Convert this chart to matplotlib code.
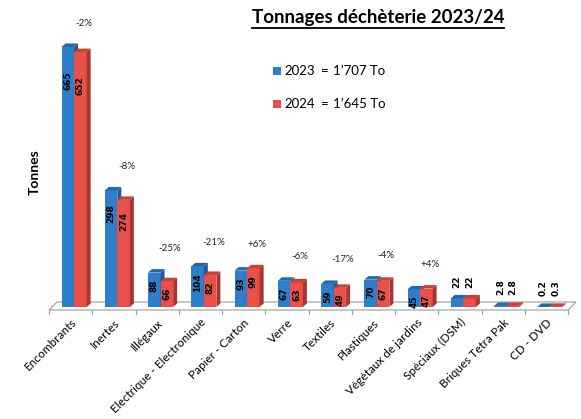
import matplotlib
matplotlib.use("Agg")
import matplotlib.pyplot as plt
from matplotlib.patches import Polygon, Rectangle
from matplotlib.lines import Line2D

plt.rcParams['font.family'] = ['Lato', 'DejaVu Sans']

# --- data -------------------------------------------------------------
categories = ["Encombrants", "Inertes", "Illégaux", "Electrique - Electronique",
              "Papier - Carton", "Verre", "Textiles", "Plastiques",
              "Végétaux de jardins", "Spéciaux (DSM)", "Briques Tetra Pak", "CD - DVD"]
tonnes_2023 = [665, 298, 88, 104, 93, 67, 59, 70, 45, 22, 2.8, 0.2]
tonnes_2024 = [652, 274, 66, 82, 99, 63, 49, 67, 47, 22, 2.8, 0.3]
value_text_2023 = ["665", "298", "88", "104", "93", "67", "59", "70", "45", "22", "2.8", "0.2"]
value_text_2024 = ["652", "274", "66", "82", "99", "63", "49", "67", "47", "22", "2.8", "0.3"]
change_labels = ["-2%", "-8%", "-25%", "-21%", "+6%", "-6%", "-17%", "-4%", "+4%", "", "", ""]
series_names = ["2023", "2024"]
series_totals = ["1\u2019707 To", "1\u2019645 To"]

# --- layout -----------------------------------------------------------
W, H = 581, 419
fig = plt.figure(figsize=(W / 100, H / 100), dpi=100)
ax_left, ax_right = 49, 568
ax_bottom_px, ax_top_px = 307, 33.3
ymax = 700
ax = fig.add_axes([ax_left / W, (H - ax_bottom_px) / H,
                   (ax_right - ax_left) / W, (ax_bottom_px - ax_top_px) / H])
ax.set_xlim(0, len(categories))
ax.set_ylim(0, ymax)
for s in ax.spines.values():
    s.set_visible(False)
ax.set_yticks([])

px_x = len(categories) / (ax_right - ax_left)      # data units per pixel (x)
px_y = ymax / (ax_bottom_px - ax_top_px)            # data units per pixel (y)

# floor of the 3-D plot
fy_front, fy_back = -3 * px_y, 5 * px_y
fdx = 8 * px_x
n = len(categories)
floor = Polygon([(0, fy_front), (n, fy_front), (n + fdx, fy_back), (fdx, fy_back)],
                closed=True, facecolor="white", edgecolor="#a6a6a6", lw=0.9,
                clip_on=False, zorder=1)
ax.add_patch(floor)
for k in range(n + 1):
    ax.add_line(Line2D([k, k], [fy_front, fy_front - 3.5 * px_y], color="#a6a6a6",
                       lw=0.9, clip_on=False, zorder=1))

# bars drawn with a small depth to give the 3-D look
bw = 0.29
ddx, ddy = 4 * px_x, 3.5 * px_y
styles = [
    dict(front="#2e7fcb", side="#1d5a96", top="#2567aa"),
    dict(front="#e8504a", side="#a83530", top="#c9403a"),
]
offsets = [0.29, 0.58]
for series, st, off in zip([tonnes_2023, tonnes_2024], styles, offsets):
    xs = [i + off for i in range(n)]
    ax.bar(xs, series, width=bw, align="edge", color=st["front"], lw=0,
           zorder=3, clip_on=False)
    for x0, v in zip(xs, series):
        x1 = x0 + bw
        ax.add_patch(Polygon([(x1, 0), (x1 + ddx, ddy), (x1 + ddx, v + ddy), (x1, v)],
                             closed=True, facecolor=st["side"], lw=0, zorder=3,
                             clip_on=False))
        ax.add_patch(Polygon([(x0, v), (x1, v), (x1 + ddx, v + ddy), (x0 + ddx, v + ddy)],
                             closed=True, facecolor=st["top"], lw=0, zorder=3,
                             clip_on=False))

# value labels
val_font = dict(family=["DejaVu Sans"], fontsize=6.5, fontweight="bold")
for series, texts, off in zip([tonnes_2023, tonnes_2024],
                              [value_text_2023, value_text_2024], offsets):
    for i, (v, t) in enumerate(zip(series, texts)):
        xc = i + off + bw / 2
        if v >= 30:
            ax.annotate(t, (xc, v), xytext=(0, -(3 + 0.022 * v)), textcoords="offset points",
                        rotation=90, ha="center", va="top", color="black", zorder=5,
                        **val_font)
        else:
            ax.annotate(t, (xc, v + ddy), xytext=(0, 5), textcoords="offset points",
                        rotation=90, ha="center", va="bottom", color="black", zorder=5,
                        **val_font)

# percentage change above each group
for i, lab in enumerate(change_labels):
    if lab:
        top = max(tonnes_2023[i], tonnes_2024[i])
        ax.annotate(lab, (i + 0.8, top), xytext=(0, 14), textcoords="offset points",
                    ha="center", va="bottom", fontsize=7, color="#222222")

# category labels
ax.set_xticks([i + 0.5 for i in range(n)])
ax.set_xticklabels(categories, rotation=45, ha="right", rotation_mode="anchor",
                   fontsize=8.5)
ax.tick_params(axis="x", length=0, pad=7)

# axis title
fig.text(35 / W, 1 - 172 / H, "Tonnes", rotation=90, ha="center", va="center",
         fontsize=10, fontweight="bold")

# chart title with underline
title = fig.text(378 / W, 1 - 18 / H, "Tonnages déchèterie 2023/24", ha="center",
                 va="center", fontsize=13.5, fontweight="bold")
fig.canvas.draw()
bb = title.get_window_extent(renderer=fig.canvas.get_renderer())
uy = (bb.y0 - 1.5) / H
fig.add_artist(Line2D([bb.x0 / W, bb.x1 / W], [uy, uy], color="black", lw=1.3,
                      transform=fig.transFigure))

# legend
for j, (name, total, st) in enumerate(zip(series_names, series_totals, styles)):
    yc = 71 + j * 33
    fig.add_artist(Rectangle((273 / W, 1 - (yc + 4) / H), 8 / W, 8 / H,
                             facecolor=st["front"], lw=0, transform=fig.transFigure))
    fig.text(284 / W, 1 - yc / H, name, ha="left", va="center", fontsize=9.5)
    fig.text(321 / W, 1 - yc / H, "=", ha="left", va="center", fontsize=9.5)
    fig.text(333 / W, 1 - yc / H, total, ha="left", va="center", fontsize=9.5)

fig.savefig("out.png", dpi=100)
